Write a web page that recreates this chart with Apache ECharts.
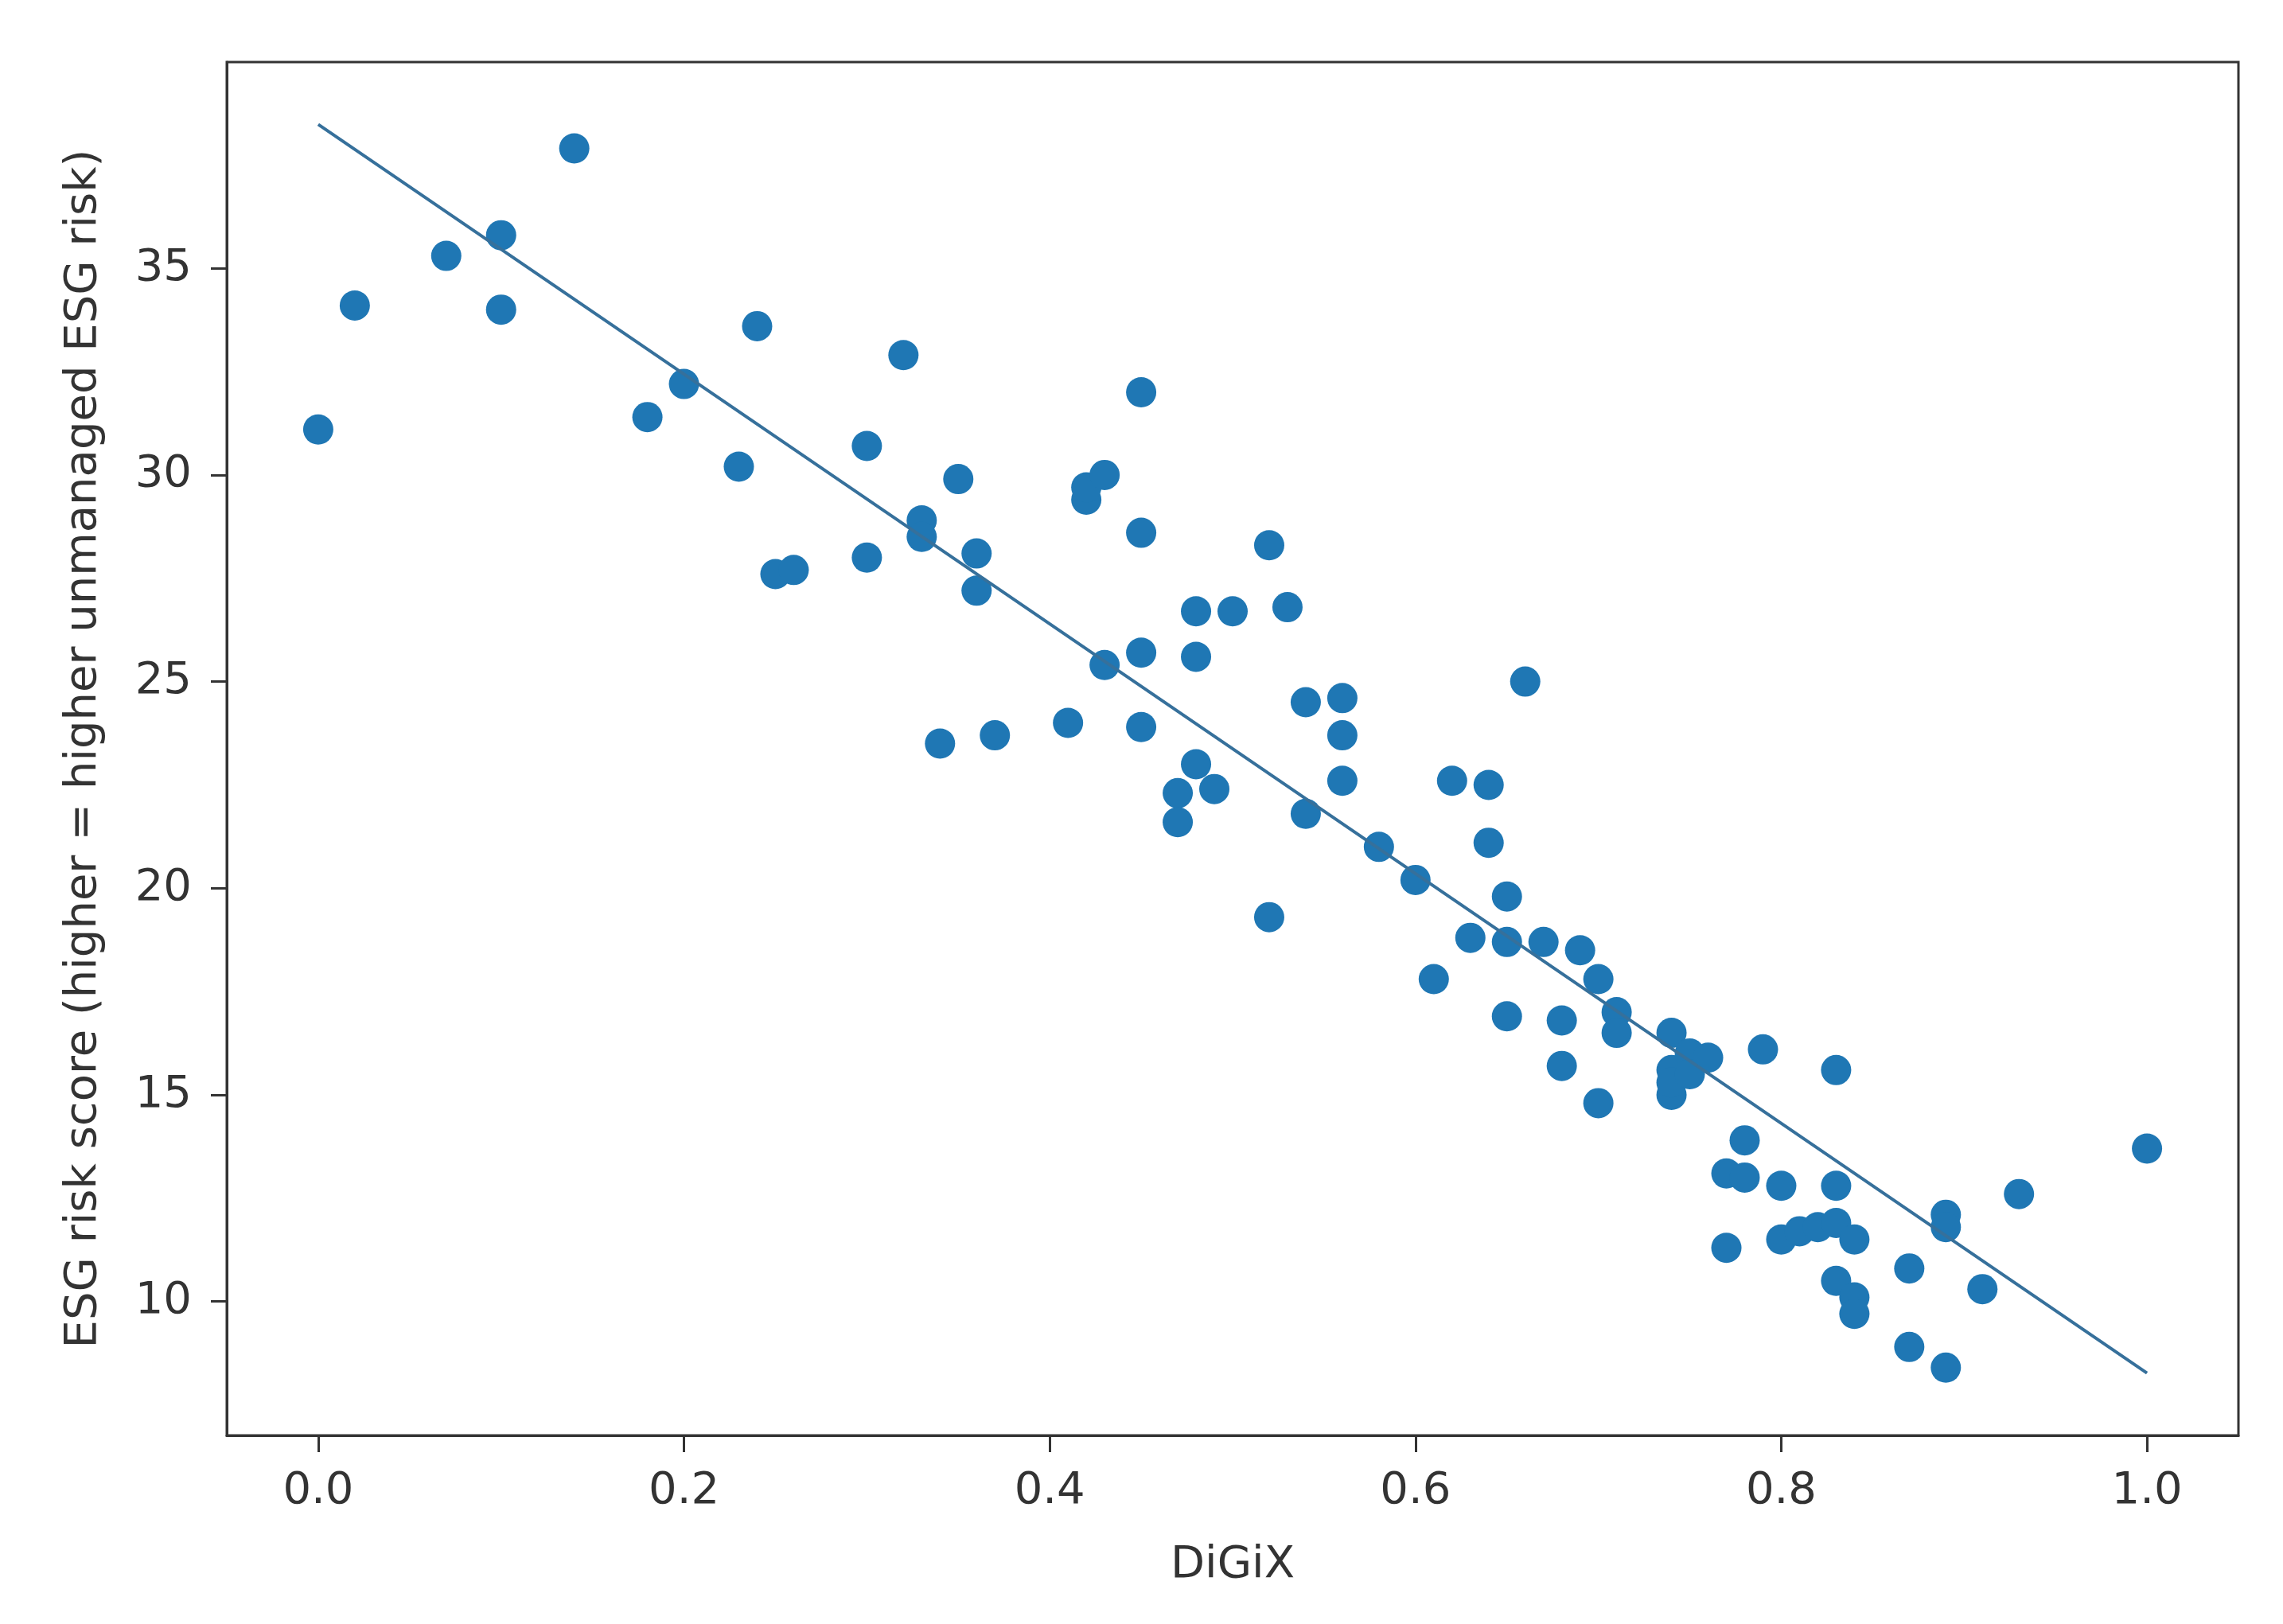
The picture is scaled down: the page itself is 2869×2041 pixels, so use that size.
<!DOCTYPE html>
<html lang="en">
<head>
    <meta charset="UTF-8">
    <title>DiGiX vs ESG risk score</title>
    <script src="https://cdn.jsdelivr.net/npm/echarts@6.0.0/dist/echarts.min.js"></script>
    <style>
        html, body { margin: 0; padding: 0; background: #ffffff; }
        #chart { width: 2869px; height: 2041px; }
    </style>
</head>
<body>
    <div id="chart"></div>
    <script>
        // points
        var digix = [
            0.00, 0.02, 0.07, 0.10, 0.10, 0.14, 0.18, 0.20, 0.23, 0.24,
            0.25, 0.26, 0.30, 0.30, 0.32, 0.33, 0.33, 0.34, 0.35, 0.36,
            0.36, 0.37, 0.41, 0.42, 0.42, 0.43, 0.43, 0.45, 0.45, 0.45,
            0.45, 0.47, 0.47, 0.48, 0.48, 0.48, 0.49, 0.50, 0.52, 0.52,
            0.53, 0.54, 0.54, 0.56, 0.56, 0.56, 0.58, 0.60, 0.61, 0.62,
            0.63, 0.64, 0.64, 0.65, 0.65, 0.65, 0.66, 0.67, 0.68, 0.68,
            0.69, 0.70, 0.70, 0.71, 0.71, 0.74, 0.74, 0.74, 0.74, 0.75,
            0.75, 0.76, 0.77, 0.77, 0.78, 0.78, 0.79, 0.80, 0.80, 0.81,
            0.82, 0.83, 0.83, 0.83, 0.84, 0.83, 0.84, 0.84, 0.87, 0.87,
            0.89, 0.89, 0.89, 0.91, 0.93, 1.00
        ];
        var esgRisk = [
            31.1, 34.1, 35.3, 35.8, 34.0, 37.9, 31.4, 32.2, 30.2, 33.6,
            27.6, 27.7, 30.7, 28.0, 32.9, 28.9, 28.5, 23.5, 29.9, 28.1,
            27.2, 23.7, 24.0, 29.4, 29.7, 30.0, 25.4, 32.0, 28.6, 25.7,
            23.9, 22.3, 21.6, 26.7, 25.6, 23.0, 22.4, 26.7, 28.3, 19.3,
            26.8, 24.5, 21.8, 24.6, 23.7, 22.6, 21.0, 20.2, 17.8, 22.6,
            18.8, 22.5, 21.1, 19.8, 18.7, 16.9, 25.0, 18.7, 16.8, 15.7,
            18.5, 17.8, 14.8, 17.0, 16.5, 16.5, 15.6, 15.0, 15.3, 16.0,
            15.5, 15.9, 13.1, 11.3, 13.9, 13.0, 16.1, 12.8, 11.5, 11.7,
            11.8, 15.6, 12.8, 11.9, 11.5, 10.5, 10.1, 9.7, 10.8, 8.9,
            12.1, 11.8, 8.4, 10.3, 12.6, 13.7
        ];

        // fitted line ends
        var fitX = [0, 1];
        var fitY = [38.48, 8.27];

        var xTicks = [0, 0.2, 0.4, 0.6, 0.8, 1.0];
        var yTicks = [10, 15, 20, 25, 30, 35];

        var points = digix.map(function (x, i) { return [x, esgRisk[i]]; });
        var fitLine = fitX.map(function (x, i) { return [x, fitY[i]]; });

        var font = 'DejaVu Sans';
        var textColor = '#333333';

        var chart = echarts.init(document.getElementById('chart'));
        chart.setOption({
            animation: false,
            backgroundColor: '#ffffff',
            grid: {
                left: 285, right: 56, top: 78, bottom: 237,
                show: true,
                borderColor: '#333333',
                borderWidth: 3,
                backgroundColor: 'transparent'
            },
            xAxis: {
                type: 'value',
                min: -0.05,
                max: 1.05,
                name: 'DiGiX',
                nameLocation: 'middle',
                nameGap: 135,
                nameTextStyle: { fontFamily: font, fontSize: 56, color: textColor },
                axisLine: { show: true, onZero: false, lineStyle: { color: '#333333', width: 3 } },
                axisTick: {
                    show: true, length: 21, inside: false,
                    customValues: xTicks,
                    lineStyle: { color: '#333333', width: 3 }
                },
                axisLabel: {
                    customValues: xTicks,
                    margin: 42,
                    fontFamily: font, fontSize: 56, color: textColor,
                    formatter: function (v) { return v.toFixed(1); }
                },
                splitLine: { show: false }
            },
            yAxis: {
                type: 'value',
                min: 6.76,
                max: 39.99,
                name: 'ESG risk score (higher = higher unmanaged ESG risk)',
                nameLocation: 'middle',
                nameGap: 152,
                nameTextStyle: { fontFamily: font, fontSize: 56, color: textColor },
                axisLine: { show: true, onZero: false, lineStyle: { color: '#333333', width: 3 } },
                axisTick: {
                    show: true, length: 20, inside: false,
                    customValues: yTicks,
                    lineStyle: { color: '#333333', width: 3 }
                },
                axisLabel: {
                    customValues: yTicks,
                    margin: 44,
                    fontFamily: font, fontSize: 56, color: textColor
                },
                splitLine: { show: false }
            },
            series: [
                {
                    type: 'scatter',
                    data: points,
                    symbol: 'circle',
                    symbolSize: 38,
                    itemStyle: { color: '#1f77b4', opacity: 1 },
                    z: 2
                },
                {
                    type: 'line',
                    data: fitLine,
                    showSymbol: false,
                    lineStyle: { color: '#36709b', width: 4 },
                    z: 3
                }
            ]
        });
    </script>
</body>
</html>
